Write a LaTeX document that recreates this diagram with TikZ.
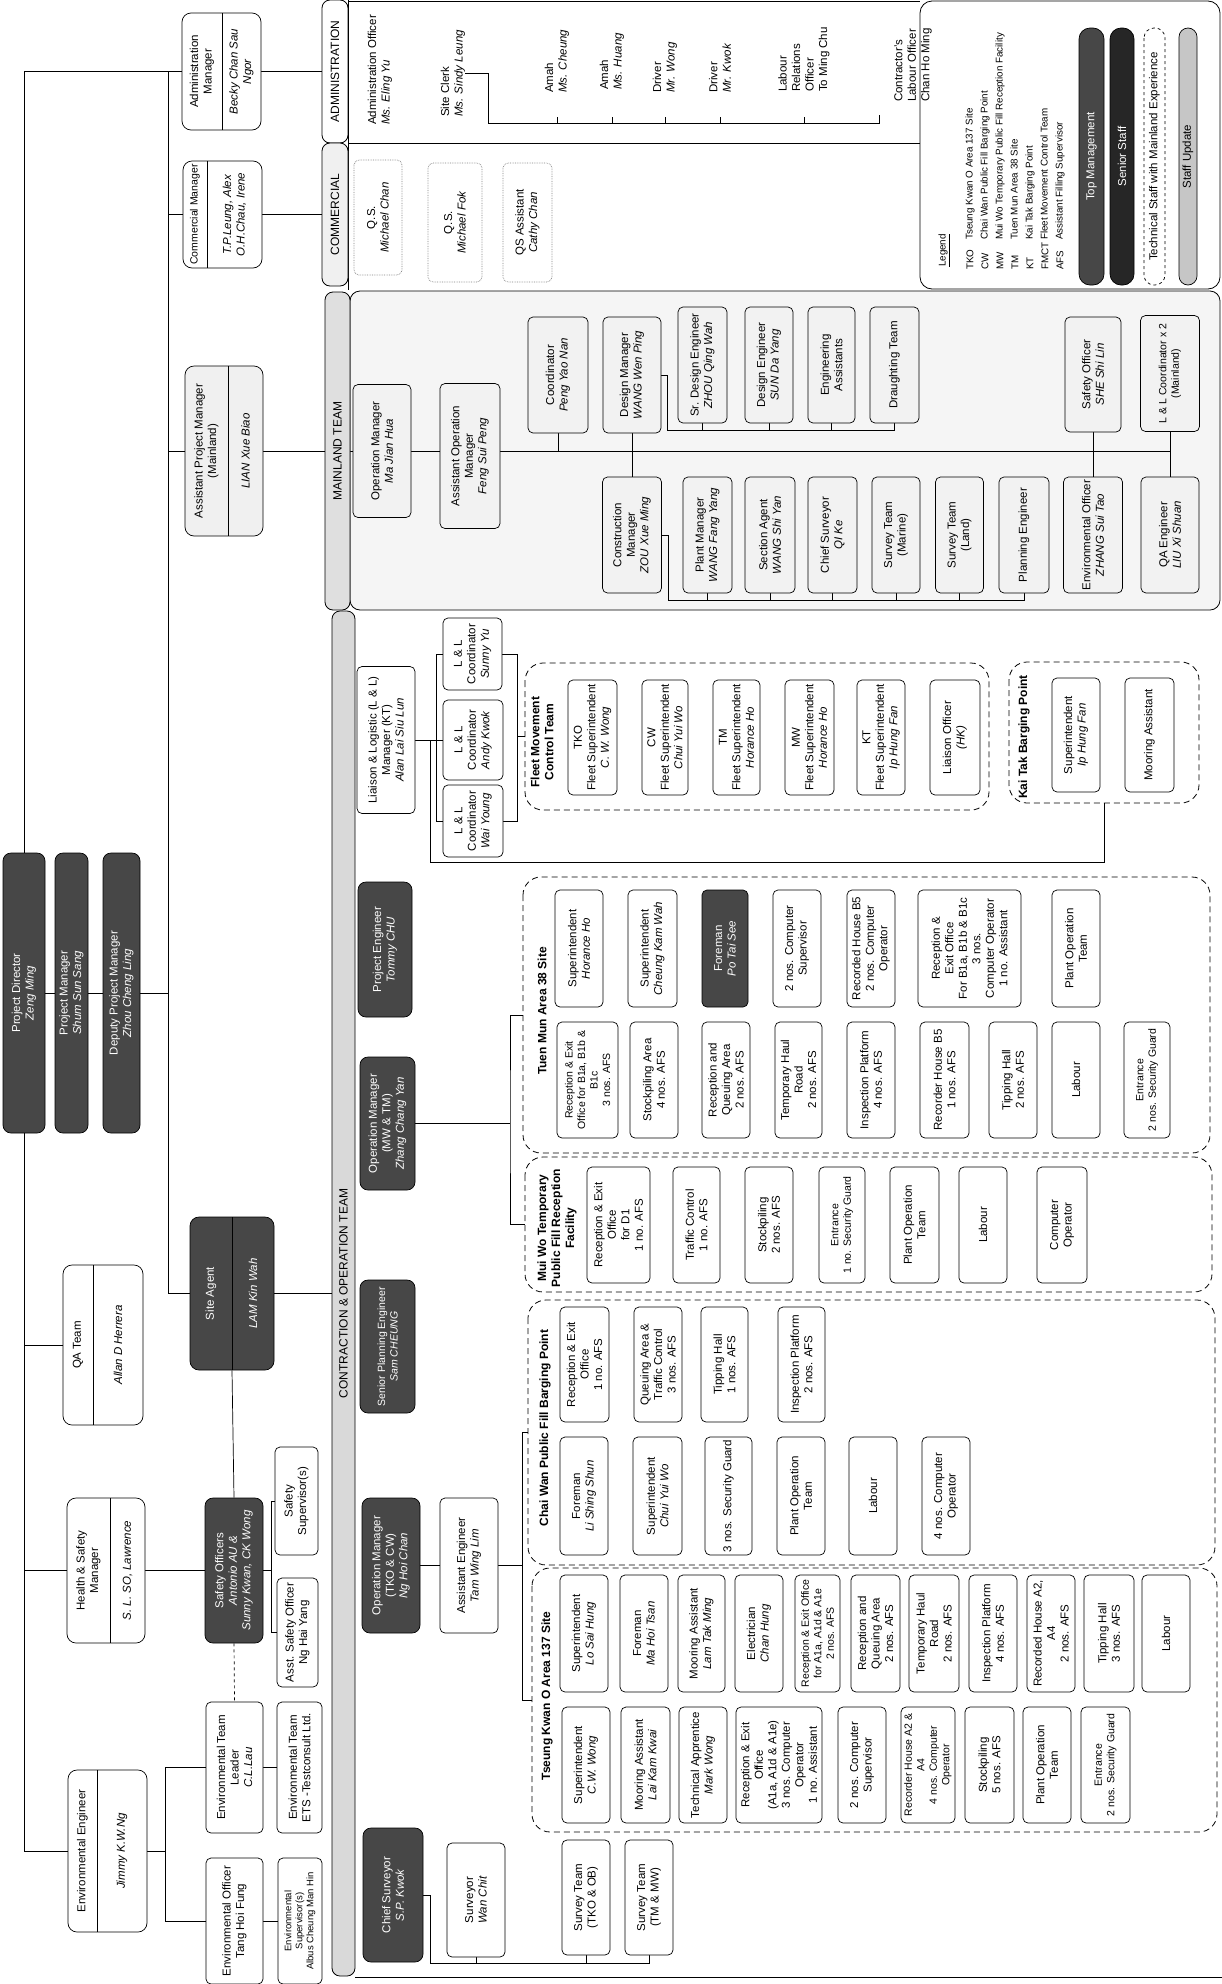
\documentclass[tikz,border=0pt]{standalone}
\usepackage{fontspec}
\setmainfont{Liberation Sans}
\pgfdeclarelayer{bg}
\pgfdeclarelayer{lines}
\pgfsetlayers{bg,lines,main}
\newcommand\boxfont{\fontsize{11.5}{13.5}\selectfont}
\newcommand\smallboxfont{\fontsize{10.5}{12.5}\selectfont}
\newcommand\tinyboxfont{\fontsize{9.5}{11}\selectfont}
\newcommand\grpfont{\fontsize{12}{14}\selectfont\bfseries}
\newcommand\tabfont{\fontsize{12}{14}\selectfont}
\newcommand\legfont{\fontsize{9.8}{15}\selectfont}
\begin{document}
\begin{tikzpicture}[x=1pt, y=-1pt,
  every node/.style={font=\boxfont},
  sz/.style 2 args={minimum width=#1pt, minimum height=#2pt},
  unit/.style={draw, rounded corners=5pt, rotate=90, align=center, inner sep=0.5pt, fill=white, line width=0.7pt},
  ml/.style={unit, fill=gray!10},
  qsbox/.style={unit, densely dotted, draw=gray},
  dark/.style={unit, fill=black!72, text=white, rounded corners=8pt},
  twopart/.style={unit, rounded corners=9pt},
  parttext/.style={rotate=90, align=center, inner sep=0pt},
  grp/.style={draw, dash pattern=on 6pt off 4pt, rounded corners=18pt, rotate=90, line width=0.8pt},
  grplabel/.style={rotate=90, align=center, font=\grpfont, inner sep=0pt},
  sectab/.style={draw, rotate=90, rounded corners=8pt, font=\tabfont, line width=0.8pt, inner sep=0pt},
  freetext/.style={rotate=90, align=left, anchor=west, inner sep=0pt},
  conn/.style={line width=0.7pt}]

\useasboundingbox (0,0) rectangle (1222,1984);

% top management
\node[dark, sz={280}{42}] (pd) at (24,993) {Project Director\\\textit{Zeng Ming}};
\node[dark, sz={280}{33}] (pm) at (71.5,993) {Project Manager\\\textit{Shum Sun Sang}};
\node[dark, sz={280}{37}] (dpm) at (121.5,993) {Deputy Project Manager\\\textit{Zhou Cheng Ling}};

% managers on the top branch
\node[twopart, sz={117}{79}] (am) at (221.5,71.5) {};
\node[parttext] (amt) at (202,71.5) {Administration\\Manager};
\node[parttext] (amn) at (241.5,71.5) {\textit{Becky Chan Sau}\\\textit{Ngor}};
\draw[conn] (222,13) -- (222,130);

\node[twopart, sz={107}{79}] (cm) at (222.5,214.5) {};
\node[parttext, font=\smallboxfont] (cmt) at (195,214.5) {Commercial Manager};
\node[parttext] (cmn) at (234.5,214.5) {\textit{T.P.Leung, Alex}\\\textit{O.H.Chau, Irene}};
\draw[conn] (207,161) -- (207,268);

\node[twopart, sz={170}{78}, fill=gray!12] (apm) at (224,451) {};
\node[parttext] (apmt) at (206.5,451) {Assistant Project Manager\\(Mainland)};
\node[parttext] (apmn) at (245.5,451) {\textit{LIAN Xue Biao}};
\draw[conn] (228,366) -- (228,536);

\node[dark, rounded corners=9pt, sz={153}{84}] (sa) at (232,1293.5) {};
\node[parttext, text=white] (sat) at (211,1293.5) {Site Agent};
\node[parttext, text=white] (san) at (253,1293.5) {\textit{LAM Kin Wah}};
\draw[conn] (232,1217) -- (232,1370);

% staff under the project director
\node[twopart, sz={160}{80}] (qa) at (103,1345) {};
\node[parttext] (qat) at (78,1345) {QA Team};
\node[parttext] (qan) at (118,1345) {\textit{Allan D Herrera}};
\draw[conn] (93,1265) -- (93,1425);

\node[twopart, sz={145}{78}] (hs) at (106,1570.5) {};
\node[parttext] (hst) at (88.5,1570.5) {Health \& Safety\\Manager};
\node[parttext] (hsn) at (127.5,1570.5) {\textit{S. L. SO, Lawrence}};
\draw[conn] (110,1498) -- (110,1643);

\node[twopart, sz={162}{79}] (ee) at (107.5,1851) {};
\node[parttext] (eet) at (82.5,1851) {Environmental Engineer};
\node[parttext] (een) at (122,1851) {\textit{Jimmy K.W.Ng}};
\draw[conn] (97,1770) -- (97,1932);

\node[dark, sz={145}{58}] (so) at (234,1570.5) {Safety Officers\\\textit{Antonio AU \&}\\\textit{Sunny Kwan, CK Wong}};
\node[unit, sz={108}{43}] (ssup) at (296.5,1501) {Safety\\Supervisor(s)};
\node[unit, sz={109}{41}] (aso) at (297.5,1632.5) {Asst. Safety Officer\\Ng Hai Yang};

\node[unit, sz={131}{57}] (etl) at (234.5,1767.5) {Environmental Team\\Leader\\\textit{C.L.Lau}};
\node[unit, sz={131}{45}] (ets) at (299.5,1767.5) {Environmental Team\\ETS -Testconsult Ltd.};
\node[unit, sz={126}{57}] (eo) at (234.5,1921) {Environmental Officer\\Tang Hoi Fung};
\node[unit, sz={126}{44}, font=\tinyboxfont] (es) at (300,1921) {Environmental\\Supervisor(s)\\Albus Cheung Man Hin};

% section tabs
\node[sectab, sz={143}{26}] (admtab) at (335,71.5) {ADMINISTRATION};
\node[sectab, sz={143}{26}, fill=gray!12] (comtab) at (335,214.5) {COMMERCIAL};
\node[sectab, sz={318}{25}, fill=gray!25] (mltab) at (337.5,451) {MAINLAND TEAM};
\node[sectab, sz={1365}{23}, fill=gray!30] (cotab) at (343.5,1293.5) {CONTRACTION \& OPERATION TEAM};

% administration
\node[freetext] (ao) at (380,125) {Administration Officer\\\textit{Ms. Eling Yu}};
\node[freetext] (scl) at (453,117) {Site Clerk\\\textit{Ms. Sindy Leung}};
\node[freetext] (amah1) at (557,93) {Amah\\\textit{Ms. Cheung}};
\node[freetext] (amah2) at (612,90) {Amah\\\textit{Ms. Huang}};
\node[freetext] (drv1) at (665,93) {Driver\\\textit{Mr. Wong}};
\node[freetext] (drv2) at (720,93) {Driver\\\textit{Mr. Kwok}};
\node[freetext] (lro) at (804,92) {Labour\\Relations\\Officer\\To Ming Chu};
\node[freetext] (clo) at (913,102) {Contractor's\\Labour Officer\\Chan Ho Ming};

% commercial
\node[qsbox, sz={115}{48}] (qs1) at (378,217.5) {Q.S.\\\textit{Michael Chan}};
\node[qsbox, sz={119}{54}] (qs2) at (455,222.5) {Q.S.\\\textit{Michael Fok}};
\node[qsbox, sz={119}{49}] (qs3) at (527.5,222.5) {QS Assistant\\\textit{Cathy Chan}};

% legend
\node[draw, rotate=90, rounded corners=12pt, line width=0.8pt, sz={288}{300}] (lgd) at (1070,145) {};
\node[freetext, font=\legfont] (lgh) at (944,267) {\underline{Legend}};
\node[freetext, font=\legfont] (lgab) at (1015,270) {TKO\\CW\\MW\\TM\\KT\\FMCT\\AFS};
\node[freetext, font=\legfont] (lgtx) at (1015,240) {Tseung Kwan O Area 137 Site\\Chai Wan Public Fill Barging Point\\Mui Wo Temporary Public Fill Reception Facility\\Tuen Mun Area 38 Site\\Kai Tak Barging Point\\Fleet Movement Control Team\\Assistant Filling Supervisor};
\node[dark, rounded corners=11pt, sz={257}{25}] (lg1) at (1091.5,156.5) {Top Management};
\node[dark, fill=black!85, rounded corners=11pt, sz={257}{24}] (lg2) at (1122,156.5) {Senior Staff};
\node[unit, dashed, rounded corners=10pt, sz={257}{21}] (lg3) at (1154.5,156.5) {Technical Staff with Mainland Experience};
\node[unit, fill=gray!45, rounded corners=9pt, sz={257}{18}] (lg4) at (1188,156.5) {Staff Update};

% mainland team
\node[ml, sz={133}{58}] (opm) at (382,451) {Operation Manager\\\textit{Ma Jian Hua}};
\node[ml, sz={145}{60}] (aopm) at (470,456) {Assistant Operation\\Manager\\\textit{Feng Sui Peng}};
\node[ml, sz={116}{60}] (coord) at (558,375) {Coordinator\\\textit{Peng Yao Nan}};
\node[ml, sz={116}{58}] (dm) at (632,375) {Design Manager\\\textit{WANG Wen Ping}};
\node[ml, sz={116}{49}] (sde) at (702.5,365) {Sr. Design Engineer\\\textit{ZHOU Qing Wah}};
\node[ml, sz={116}{48}] (de) at (769,365) {Design Engineer\\\textit{SUN Da Yang}};
\node[ml, sz={116}{47}] (ea) at (831.5,365) {Engineering\\Assistants};
\node[ml, sz={116}{49}] (dt) at (894.5,365) {Draughting Team};
\node[ml, sz={115}{56}] (she) at (1093,374.5) {Safety Officer\\\textit{SHE Shi Lin}};
\node[ml, sz={116}{59}, font=\smallboxfont] (llc2) at (1170,373.5) {L \& L Coordinator x 2\\(Mainland)};

\node[ml, sz={116}{59}] (cnm) at (632,535) {Construction\\Manager\\\textit{ZOU Xue Ming}};
\node[ml, sz={116}{49}] (plm) at (707.5,535) {Plant Manager\\\textit{WANG Fang Yang}};
\node[ml, sz={116}{50}] (sag) at (770,535) {Section Agent\\\textit{WANG Shi Yan}};
\node[ml, sz={116}{49}] (csv) at (832.5,535) {Chief Surveyor\\\textit{QI Ke}};
\node[ml, sz={116}{48}] (stm) at (896,535) {Survey Team\\(Marine)};
\node[ml, sz={116}{48}] (stl) at (959.5,535) {Survey Team\\(Land)};
\node[ml, sz={116}{50}] (ple) at (1024,535) {Planning Engineer};
\node[ml, sz={116}{59}] (envo) at (1093,535) {Environmental Officer\\\textit{ZHANG Sui Tao}};
\node[ml, sz={116}{58}] (qae) at (1170,535) {QA Engineer\\\textit{LIU Xi Shuan}};

% contraction & operation team
\node[dark, sz={135}{54}] (pe) at (385,949.5) {Project Engineer\\\textit{Tommy CHU}};
\node[dark, sz={133}{55}] (omm) at (387.5,1123.5) {Operation Manager\\(MW \& TM)\\\textit{Zhang Chang Yan}};
\node[dark, sz={133}{55}, font=\smallboxfont] (spe) at (387.5,1346.5) {Senior Planning Engineer\\\textit{Sam CHEUNG}};
\node[dark, sz={135}{58}] (omt) at (391,1565.5) {Operation Manager\\(TKO \& CW)\\\textit{Ng Hoi Chan}};
\node[dark, sz={134}{60}] (csr) at (393,1895) {Chief Surveyor\\\textit{S.P. Kwok}};

\node[unit, sz={147}{58}] (ll) at (386,740) {Liaison \& Logistic (L \& L)\\Manager (KT)\\\textit{Alan Lai Siu Lun}};
\node[unit, sz={72}{59}] (llsy) at (472.5,654) {L \& L\\Coordinator\\\textit{Sunny Yu}};
\node[unit, sz={80}{60}] (llak) at (473,740) {L \& L\\Coordinator\\\textit{Andy Kwok}};
\node[unit, sz={72}{60}] (llwy) at (473,821) {L \& L\\Coordinator\\\textit{Wai Young}};

% fleet movement control team
\node[grp, sz={147}{464}] (fmct) at (757,736.5) {};
\node[grplabel] (fmctl) at (542,742) {Fleet Movement\\Control Team};
\node[unit, sz={115}{49}] (fs1) at (592.5,737.5) {TKO\\Fleet Superintendent\\\textit{C. W. Wong}};
\node[unit, sz={115}{46}] (fs2) at (665,737.5) {CW\\Fleet Superintendent\\\textit{Chui Yui Wo}};
\node[unit, sz={115}{47}] (fs3) at (736.5,737.5) {TM\\Fleet Superintendent\\\textit{Horance Ho}};
\node[unit, sz={115}{49}] (fs4) at (809.5,737.5) {MW\\Fleet Superintendent\\\textit{Horance Ho}};
\node[unit, sz={115}{48}] (fs5) at (881,737.5) {KT\\Fleet Superintendent\\\textit{Ip Hung Fan}};
\node[unit, sz={115}{50}] (lo) at (955,737.5) {Liaison Officer\\\textit{(HK)}};

% kai tak
\node[grp, sz={141}{190}] (ktb) at (1104,732.5) {};
\node[grplabel] (ktl) at (1024,737) {Kai Tak Barging Point};
\node[unit, sz={114}{48}] (ktsu) at (1076,735) {Superintendent\\\textit{Ip Hung Fan}};
\node[unit, sz={114}{49}] (ktma) at (1149.5,735) {Mooring Assistant};

% tuen mun
\node[grp, sz={276}{687}] (tmb) at (866.5,1015) {};
\node[grplabel] (tml) at (542,1011) {Tuen Mun Area 38 Site};
\node[unit, sz={117}{48}] (tmsh) at (579,948.5) {Superintendent\\\textit{Horance Ho}};
\node[unit, sz={117}{49}] (tmsc) at (652.5,948.5) {Superintendent\\\textit{Cheung Kam Wah}};
\node[dark, rounded corners=5pt, sz={117}{46}] (tmfm) at (725,948.5) {Foreman\\\textit{Po Tai See}};
\node[unit, sz={117}{48}] (tmcs) at (797,948.5) {2 nos. Computer\\Supervisor};
\node[unit, sz={117}{48}] (tmrh) at (871,948.5) {Recorded House B5\\2 nos. Computer\\Operator};
\node[unit, sz={117}{103}] (tmre) at (969.5,948.5) {Reception \&\\Exit Office\\For B1a, B1b \& B1c\\3 nos.\\Computer Operator\\1 no. Assistant};
\node[unit, sz={117}{48}] (tmpo) at (1076,948.5) {Plant Operation\\Team};
\node[unit, sz={116}{61}, font=\smallboxfont] (tmro) at (587.5,1080) {Reception \& Exit\\Office for B1a, B1b \&\\B1c\\3 nos. AFS};
\node[unit, sz={116}{48}] (tmsa) at (654,1080) {Stockpiling Area\\4 nos. AFS};
\node[unit, sz={116}{48}] (tmrq) at (726,1080) {Reception and\\Queuing Area\\2 nos. AFS};
\node[unit, sz={116}{47}] (tmth) at (798.5,1080) {Temporary Haul\\Road\\2 nos. AFS};
\node[unit, sz={116}{48}] (tmip) at (871,1080) {Inspection Platform\\4 nos. AFS};
\node[unit, sz={116}{49}] (tmrb) at (944.5,1080) {Recorder House B5\\1 nos. AFS};
\node[unit, sz={116}{48}] (tmtp) at (1013,1080) {Tipping Hall\\2 nos. AFS};
\node[unit, sz={116}{48}] (tmlb) at (1076,1080) {Labour};
\node[unit, sz={116}{46}, font=\smallboxfont] (tmen) at (1147,1080) {Entrance\\2 nos. Security Guard};

% mui wo
\node[grp, sz={135}{687}] (mwb) at (868.5,1224.5) {};
\node[grplabel] (mwl) at (557,1228) {Mui Wo Temporary\\Public Fill Reception\\Facility};
\node[unit, sz={116}{63}] (mwro) at (618.5,1225) {Reception \& Exit\\Office\\for D1\\1 no. AFS};
\node[unit, sz={116}{47}] (mwtc) at (696.5,1225) {Traffic Control\\1 no. AFS};
\node[unit, sz={116}{48}] (mwsp) at (769,1225) {Stockpiling\\2 nos. AFS};
\node[unit, sz={116}{46}, font=\smallboxfont] (mwen) at (842,1225) {Entrance\\1 no. Security Guard};
\node[unit, sz={116}{49}] (mwpo) at (914.5,1225) {Plant Operation\\Team};
\node[unit, sz={116}{48}] (mwlb) at (983,1225) {Labour};
\node[unit, sz={116}{50}] (mwco) at (1062,1225) {Computer\\Operator};

% chai wan
\node[grp, sz={265}{687}] (cwb) at (871.5,1432.5) {};
\node[grplabel] (cwl) at (545,1428) {Chai Wan Public Fill Barging Point};
\node[unit, sz={115}{49}] (cwro) at (584.5,1364.5) {Reception \& Exit\\Office\\1 no. AFS};
\node[unit, sz={115}{48}] (cwqa) at (658,1364.5) {Queuing Area \&\\Traffic Control\\3 nos. AFS};
\node[unit, sz={115}{47}] (cwth) at (724.5,1364.5) {Tipping Hall\\1 nos. AFS};
\node[unit, sz={115}{47}] (cwip) at (801.5,1364.5) {Inspection Platform\\2 nos. AFS};
\node[unit, sz={118}{48}] (cwfm) at (584,1496) {Foreman\\\textit{Li Shing Shun}};
\node[unit, sz={118}{49}] (cwsu) at (657.5,1496) {Superintendent\\\textit{Chui Yui Wo}};
\node[unit, sz={118}{47}] (cwsg) at (728.5,1496) {3 nos. Security Guard};
\node[unit, sz={118}{48}] (cwpo) at (801,1496) {Plant Operation\\Team};
\node[unit, sz={118}{48}] (cwlb) at (873,1496) {Labour};
\node[unit, sz={118}{48}] (cwco) at (946,1496) {4 nos. Computer\\Operator};

% tseung kwan o
\node[grp, sz={264}{685}] (tkb) at (874.5,1700) {};
\node[grplabel] (tkl) at (547,1696) {Tseung Kwan O Area 137 Site};
\node[unit, sz={117}{48}] (tksl) at (584,1633.5) {Superintendent\\\textit{Lo Sai Hung}};
\node[unit, sz={117}{48}] (tkfm) at (644,1633.5) {Foreman\\\textit{Ma Hoi Tsan}};
\node[unit, sz={117}{47}] (tkma) at (701.5,1633.5) {Mooring Assistant\\\textit{Lam Tak Ming}};
\node[unit, sz={117}{48}] (tkel) at (759,1633.5) {Electrician\\\textit{Chan Hung}};
\node[unit, sz={117}{45}, font=\smallboxfont] (tkro) at (817.5,1633.5) {Reception \& Exit Office\\for A1a, A1d \& A1e\\2 nos. AFS};
\node[unit, sz={117}{49}] (tkrq) at (875.5,1633.5) {Reception and\\Queuing Area\\2 nos. AFS};
\node[unit, sz={117}{50}] (tkth) at (934,1633.5) {Temporary Haul\\Road\\2 nos. AFS};
\node[unit, sz={117}{48}] (tkip) at (993,1633.5) {Inspection Platform\\4 nos. AFS};
\node[unit, sz={117}{48}] (tkrh) at (1051,1633.5) {Recorded House A2,\\A4\\2 nos. AFS};
\node[unit, sz={117}{50}] (tktp) at (1109,1633.5) {Tipping Hall\\3 nos. AFS};
\node[unit, sz={117}{48}] (tklb) at (1166,1633.5) {Labour};
\node[unit, sz={116}{48}] (tkcw) at (586,1765) {Superintendent\\\textit{C.W. Wong}};
\node[unit, sz={116}{49}] (tklk) at (645.5,1765) {Mooring Assistant\\\textit{Lai Kam Kwai}};
\node[unit, sz={116}{48}] (tkta) at (703,1765) {Technical Apprentice\\\textit{Mark Wong}};
\node[unit, sz={116}{86}] (tkre) at (779,1765) {Reception \& Exit\\Office\\(A1a, A1d \& A1e)\\3 nos. Computer\\Operator\\1 no. Assistant};
\node[unit, sz={116}{48}] (tkcs) at (862,1765) {2 nos. Computer\\Supervisor};
\node[unit, sz={116}{54}, font=\smallboxfont] (tkrc) at (928,1765) {Recorder House A2 \&\\A4\\4 nos. Computer\\Operator};
\node[unit, sz={116}{49}] (tksp) at (989.5,1765) {Stockpiling\\5 nos. AFS};
\node[unit, sz={116}{48}] (tkpo) at (1047,1765) {Plant Operation\\Team};
\node[unit, sz={116}{49}, font=\smallboxfont] (tken) at (1105.5,1765) {Entrance\\2 nos. Security Guard};

\node[unit, sz={135}{58}] (ae) at (469,1565.5) {Assistant Engineer\\\textit{Tam Wing Lim}};
\node[unit, sz={114}{58}] (swc) at (476,1900) {Surveyor\\\textit{Wan Chit}};
\node[unit, sz={115}{48}] (st1) at (586,1897.5) {Survey Team\\(TKO \& OB)};
\node[unit, sz={115}{48}] (st2) at (649,1897.5) {Survey Team\\(TM \& MW)};

% section frames
\begin{pgfonlayer}{bg}
  \draw[line width=0.8pt] (348,1) -- (920,1);
  \draw[line width=0.8pt] (348,0) -- (348,290);
  \draw[line width=0.8pt] (348,143) -- (920,143);
  \draw[line width=0.8pt, fill=gray!8, rounded corners=10pt] (350,291) rectangle (1220,610);
  \draw[line width=0.8pt] (355,1977) -- (1222,1977);
\end{pgfonlayer}

% connectors
\begin{pgfonlayer}{lines}
  \coordinate (tt) at (168,71.5);
  \coordinate (tb) at (168,1293.5);
  \draw[conn] (pd.east) |- (am.north);
  \draw[conn] (am.south) -- (admtab.north);
  \draw[conn] (tt) -- (tb) -- (sa.north);
  \draw[conn] (pd.south) -- (pm.north);
  \draw[conn] (pm.south) -- (dpm.north);
  \draw[conn] (dpm.south) -- (dpm.south -| tt);
  \draw[conn] (cm.north -| tt) -- (cm.north);
  \draw[conn] (cm.south) -- (comtab.north);
  \draw[conn] (apm.north -| tt) -- (apm.north);
  \draw[conn] (apm.south) -- (mltab.north);
  \draw[conn] (sa.south) -- (cotab.north);
  \draw[conn] (pd.west) |- (ee.north);
  \draw[conn] (qa.north) -| (pd.west);
  \draw[conn] (hs.north) -| (pd.west);
  \draw[conn] (hs.south) -- (so.north);
  \draw[conn] (sa.west) -- (so.east);
  \draw[conn, dashed] (so.west) -- (etl.east);
  \draw[conn] (so.south) -- ++(8,0) coordinate (soj);
  \draw[conn] (ssup.north) -| (soj) |- (aso.north);
  \draw[conn] (ee.south) -- ++(18,0) coordinate (eej);
  \draw[conn] (etl.north) -| (eej) |- (eo.north);
  \draw[conn] (etl.south) -- (ets.north);
  \draw[conn] (eo.south) -- (es.north);
  % administration
  \coordinate (ab) at (488,123);
  \coordinate (abe) at (879,123);
  \draw[conn] (scl.south) -| (ab) -- (abe) -- ++(0,-8);
  \foreach \p in {amah1,amah2,drv1,drv2,lro}
    \draw[conn] (\p.west |- ab) -- ++(0,-6);
  % mainland
  \coordinate (mlj) at (1170,451);
  \coordinate (dbus) at (667,430);
  \coordinate (cbus) at (668,600);
  \draw[conn] (mltab.south) -- (mlj);
  \draw[conn] (coord.west) -- (coord.west |- mlj);
  \draw[conn] (dm.west) -- (cnm.east);
  \draw[conn] (she.west) -- (envo.east);
  \draw[conn] (llc2.west) -- (qae.east);
  \draw[conn] (dm.south) -| (dbus) -- (dt.west |- dbus) -- (dt.west);
  \foreach \n in {sde,de,ea}
    \draw[conn] (\n.west) -- (\n.west |- dbus);
  \draw[conn] (cnm.south) -| (cbus) -- (ple.west |- cbus) -- (ple.west);
  \foreach \n in {plm,sag,csv,stm,stl}
    \draw[conn] (\n.west) -- (\n.west |- cbus);
  % contraction
  \draw[conn] (ll.south) -- (llak.north);
  \draw[conn] (llsy.north) -- ++(-6,0) |- (llwy.north);
  \draw[conn] (llsy.south) -- ++(15,0) |- (llwy.south);
  \draw[conn] (fmct.north) -- ++(-8,0);
  \coordinate (llj) at (430,740);
  \draw[conn] (llj) -- ++(0,122) -| (ktb.west);
  \coordinate (mwj) at (510,1123.5);
  \draw[conn] (omm.south) -- (mwj);
  \draw[conn] (tmb.north) -| (mwj) |- (mwb.north);
  \draw[conn] (omt.south) -- (ae.north);
  \draw[conn] (ae.south) -- ++(24,0) coordinate (aej);
  \draw[conn] (cwb.north) -| (aej) |- (tkb.north);
  \coordinate (sbus) at (430,1963);
  \draw[conn] (csr.south) -| (sbus) -- (st2.west |- sbus) -- (st2.west);
  \foreach \n in {swc,st1}
    \draw[conn] (\n.west) -- (\n.west |- sbus);
\end{pgfonlayer}
\end{tikzpicture}
\end{document}
